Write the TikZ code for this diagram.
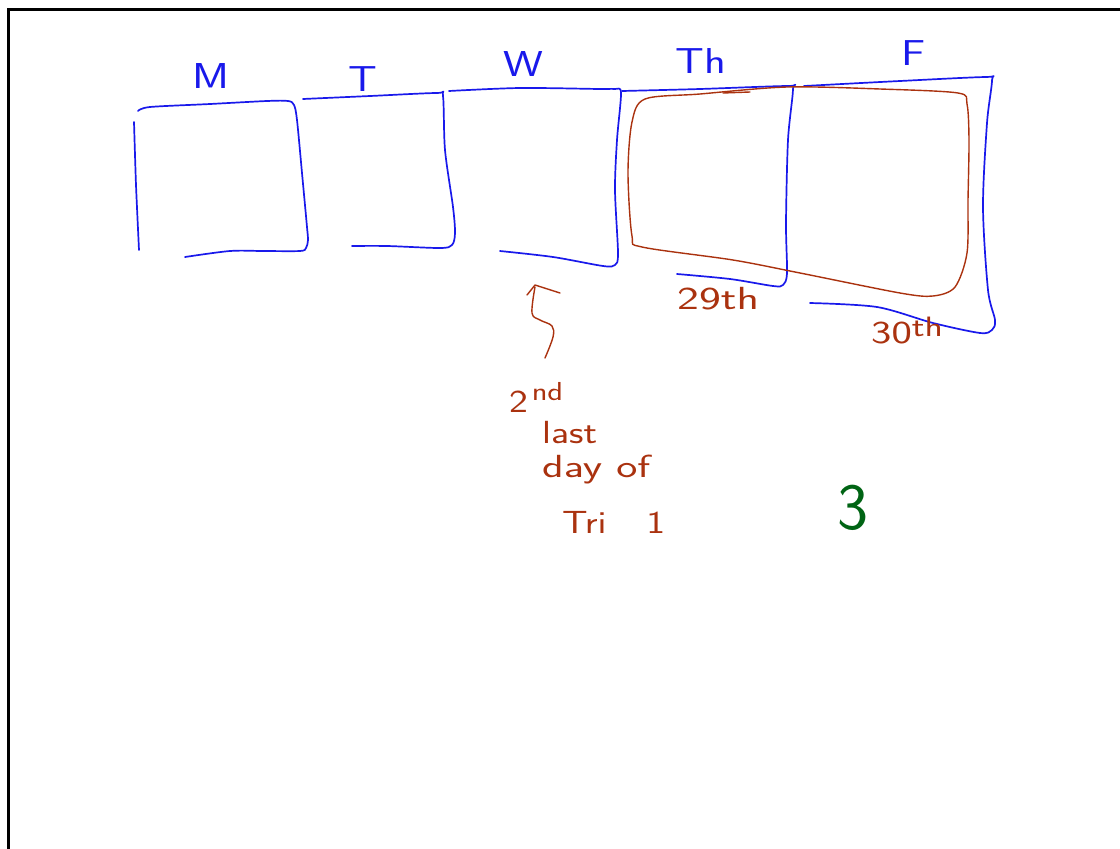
\documentclass[tikz,border=0pt]{standalone}
\usepackage{fontspec}
\newcommand{\wide}[1]{\scalebox{1.25}[1]{#1}}
\begin{document}
\begin{tikzpicture}[x=1pt,y=-1pt,
  bluepen/.style={draw=penblue,line width=1.7pt,line cap=round,line join=round},
  brownpen/.style={draw=penbrown,line width=1.4pt,line cap=round,line join=round},
  daylabel/.style={text=penblue,font=\sffamily\fontsize{36}{40}\selectfont,inner sep=0pt},
  notelabel/.style={text=penbrown,font=\sffamily\fontsize{32}{36}\selectfont,inner sep=0pt,anchor=base west},
]
\definecolor{penblue}{RGB}{25,25,235}
\definecolor{penbrown}{RGB}{170,50,15}
\definecolor{pengreen}{RGB}{0,100,20}
\useasboundingbox (0,0) rectangle (1120,849);
\fill[white] (0,0) rectangle (1120,849);
% frame
\draw[line width=3pt,black] (8,849) -- (8,9) -- (1120,9);

% --- Monday box
\draw[bluepen] plot[smooth,tension=0.4] coordinates {(134,122) (136,185) (139,250)};
\draw[bluepen] plot[smooth,tension=0.5] coordinates {(138,111) (150,107) (210,104) (267,101) (288,101) (294,105) (297,120) (302,173) (307,227) (308,240) (306,248) (300,251) (263,251) (230,251) (185,257)};
% --- Tuesday box
\draw[bluepen] plot[smooth,tension=0.5] coordinates {(303,99) (370,96) (437,93) (443,96) (445,150) (453,207) (455,233) (452,245) (440,248) (387,246) (352,246)};
% --- Wednesday box
\draw[bluepen] plot[smooth,tension=0.5] coordinates {(449,91) (520,88) (600,89) (615,89) (621,93) (617,140) (615,190) (618,253) (615,265) (603,266) (553,257) (500,251)};
% --- Thursday box
\draw[bluepen] plot[smooth,tension=0.5] coordinates {(622,91) (700,89) (788,86) (793,89) (788,140) (786,223) (787,273) (783,285) (773,286) (730,279) (677,274)};
% --- Friday box
\draw[bluepen] plot[smooth,tension=0.5] coordinates {(804,86) (900,81) (986,77) (992,80) (987,123) (983,207) (988,290) (995,320) (992,330) (980,333) (933,323) (877,307) (810,303)};

% day labels
\node[daylabel] (mon) at (211,76) {\wide{M}};
\node[daylabel] (tue) at (363,79) {\wide{T}};
\node[daylabel] (wed) at (523,64) {\wide{W}};
\node[daylabel] (thu) at (701,61) {\wide{Th}};
\node[daylabel] (fri) at (914,53) {\wide{F}};

% --- brown rounded box around Th and F
\draw[brownpen] plot[smooth cycle,tension=0.5] coordinates {(632,122) (645,99) (700,94) (787,87) (880,89) (958,93) (967,104) (969,140) (968,200) (967,253) (955,287) (933,296) (900,293) (800,273) (733,260) (642,247) (632,236) (628,173)};
\draw[brownpen] (723,93) -- (750,92);

% dates
\node[notelabel] (d29) at (677,309) {\scalebox{1.45}[1]{29th}};
\node[notelabel] (d30) at (871,343) {\scalebox{1.35}[1]{30\raisebox{0.45ex}{\fontsize{28}{30}\selectfont th}}};

% squiggle arrow
\coordinate (sqtop) at (535,287);
\coordinate (sqbot) at (545,358);
\draw[brownpen] plot[smooth,tension=0.6] coordinates {(sqtop) (532,313) (540,320) (552,326) (553,337) (sqbot)};
\draw[brownpen] (527,295) -- (535,285) -- (560,293);

% note text
\node[notelabel] (n1) at (509,412) {\wide{2\hspace{3pt}\raisebox{0.8ex}{\fontsize{26}{28}\selectfont nd}}};
\node[notelabel] (n2) at (542,443) {\wide{last}};
\node[notelabel] (n3) at (542,477) {\scalebox{1.4}[1]{day of}};
\node[notelabel] (n4) at (562,533) {\wide{Tri}\hspace{40pt}\wide{1}};

% green 3
\node[text=pengreen,font=\sffamily\fontsize{66}{70}\selectfont,inner sep=0pt] (three) at (853,508) {3};
\end{tikzpicture}
\end{document}
